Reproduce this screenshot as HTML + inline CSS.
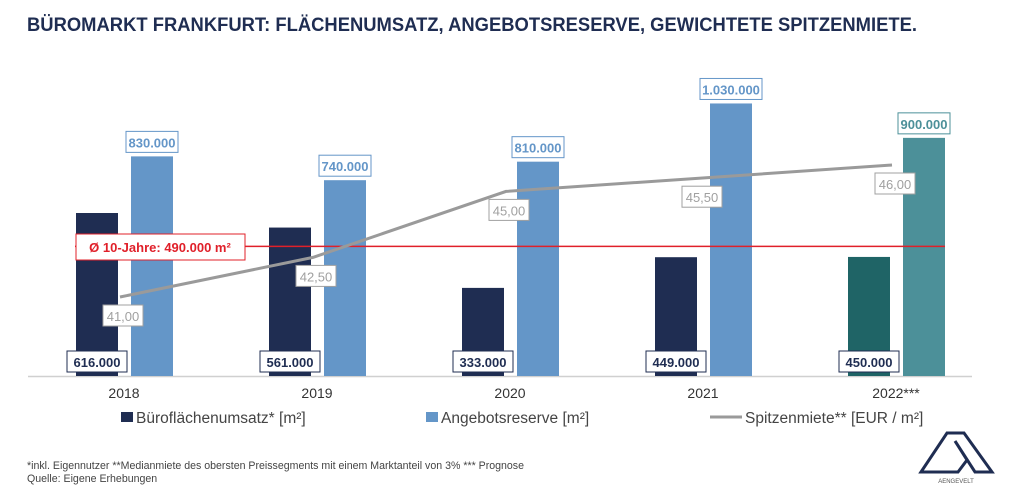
<!DOCTYPE html>
<html><head><meta charset="utf-8"><style>
body{margin:0;background:#fff;font-family:"Liberation Sans",sans-serif}
svg{display:block}
</style></head><body>
<svg id="c" width="1024" height="493" xmlns="http://www.w3.org/2000/svg">
<text x="27" y="31" font-size="19" font-weight="bold" fill="#1f2d52" textLength="890" lengthAdjust="spacingAndGlyphs">BÜROMARKT FRANKFURT: FLÄCHENUMSATZ, ANGEBOTSRESERVE, GEWICHTETE SPITZENMIETE.</text>
<line x1="28" y1="376.5" x2="972" y2="376.5" stroke="#d0d0d0" stroke-width="1.5"/>
<g id="bars"></g>
<g>
<rect x="121" y="412" width="12" height="10" fill="#1f2d52"/>
<text x="136" y="423" font-size="15.5" fill="#444">Büroflächenumsatz* [m²]</text>
<rect x="426" y="412" width="12" height="10" fill="#6496c8"/>
<text x="441" y="423" font-size="15.5" fill="#444">Angebotsreserve [m²]</text>
<line x1="710" y1="417" x2="742" y2="417" stroke="#9a9a9a" stroke-width="3"/>
<text x="745" y="423" font-size="15.5" fill="#444">Spitzenmiete** [EUR / m²]</text>
</g>
<text x="27" y="469" font-size="10.6" fill="#444">*inkl. Eigennutzer **Medianmiete des obersten Preissegments mit einem Marktanteil von 3% *** Prognose</text>
<text x="27" y="482" font-size="10.6" fill="#444">Quelle: Eigene Erhebungen</text>
<g>
<path d="M921,472 L947,433 L964,433 L992,472 L975,472 L955,441 L967,460 L958,472 Z" fill="none" stroke="#1f2d52" stroke-width="3" stroke-linejoin="miter"/>
<text x="956" y="483" font-size="6" fill="#555" text-anchor="middle">AENGEVELT</text>
</g>
</svg>
<script>
const categories=["2018","2019","2020","2021","2022***"];
const umsatz=[616000,561000,333000,449000,450000];
const angebot=[830000,740000,810000,1030000,900000];
const miete=[41.0,42.5,45.0,45.5,46.0];
const avg10=490000;
const NS="http://www.w3.org/2000/svg";
const g=document.getElementById('bars');
const base=376, pxPer=264.6/1000000;
const xc=i=>124+i*193;
const yv=v=>base-v*pxPer;
const ym=v=>297-(v-41)*26.4;
const fmt=v=>v.toLocaleString('de-DE');
function el(t,a,p){const e=document.createElementNS(NS,t);for(const k in a)e.setAttribute(k,a[k]);(p||g).appendChild(e);return e;}
categories.forEach((c,i)=>{
 const last=i===categories.length-1;
 const x=xc(i);
 let r=el('rect',{x:x-48,y:yv(umsatz[i]),width:42,height:base-yv(umsatz[i]),fill:last?'#1f6466':'#1f2d52'});
 
 
 r=el('rect',{x:x+7,y:yv(angebot[i]),width:42,height:base-yv(angebot[i]),fill:last?'#4c9099':'#6496c8'});
 
 
 let t=el('text',{x:x,y:398,'font-size':14,fill:'#333','text-anchor':'middle'});t.textContent=c;
 
 
});
let al=el('line',{x1:75,x2:945,y1:yv(avg10),y2:yv(avg10),stroke:'#e0202a','stroke-width':1.5});


let ab=el('rect',{x:76,y:234,width:169,height:26,fill:'#fff',stroke:'#e0202a','stroke-width':1});


let at=el('text',{x:160,y:252,'font-size':13,'font-weight':'bold',fill:'#e0202a','text-anchor':'middle'});at.textContent='Ø 10-Jahre: '+fmt(avg10)+' m²';


let pts=miete.map((v,i)=>(xc(i)-4)+','+ym(v)).join(' ');
let pl=el('polyline',{points:pts,fill:'none',stroke:'#9a9a9a','stroke-width':3});


function box(cx,cy,w,txt,color,fs,bold,name){
 let b=el('rect',{x:cx-w/2,y:cy-11,width:w,height:21,fill:'#fff',stroke:color,'stroke-width':1});
 
 
 let t=el('text',{x:cx,y:cy+5,'font-size':fs,'font-weight':bold?'bold':'normal',fill:color,'text-anchor':'middle'});t.textContent=txt;
 
 
}
categories.forEach((c,i)=>{
 const x=xc(i);
 box(x-27,362,60,fmt(umsatz[i]),'#1f2d52',13,true,'label-umsatz-'+i);
 box(x+28,yv(angebot[i])-14,i===3?62:52,fmt(angebot[i]),i===4?'#4c9099':'#6496c8',13,true,'label-angebot-'+i);
 box(x-1,ym(miete[i])+19,40,miete[i].toFixed(2).replace('.',','),'#a0a0a0',13,false,'label-miete-'+i);
});
</script>
</body></html>
